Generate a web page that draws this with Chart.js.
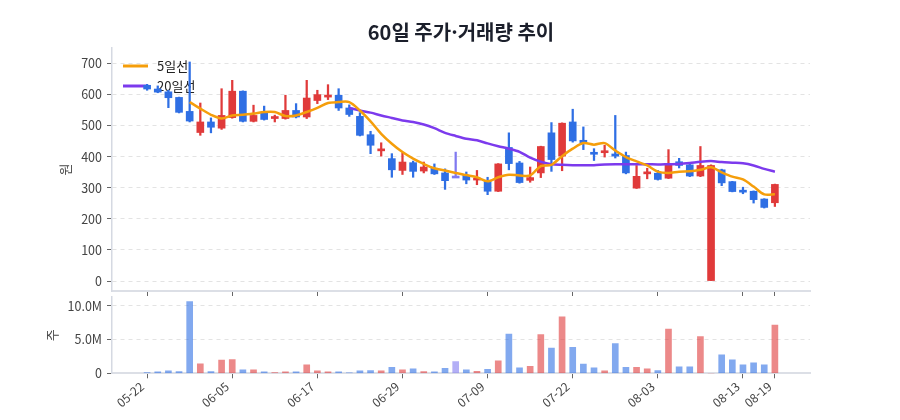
<!DOCTYPE html>
<html lang="ko">
<head>
<meta charset="utf-8">
<title>60일 주가·거래량 추이</title>
<script src="https://cdn.jsdelivr.net/npm/chart.js@4.4.1/dist/chart.umd.min.js"></script>
<style>
    body { margin: 0; background: #fff; }
    .wrap { position: relative; width: 900px; height: 420px; }
    #priceChart { position: absolute; left: 0; top: 0; }
    #volumeChart { position: absolute; left: 0; top: 290px; }
</style>
</head>
<body>
<div class="wrap">
    <canvas id="priceChart" width="900" height="301"></canvas>
    <canvas id="volumeChart" width="900" height="130"></canvas>
</div>
<script>
/*-------------------------
~~~~~~~~~~~Data~~~~~~~~~~~~
-------------------------*/
const dates = [
    '05-22', '05-23', '05-24', '05-27', '05-28', '05-29', '05-31', '06-03', '06-05', '06-06',
    '06-07', '06-10', '06-11', '06-12', '06-13', '06-14', '06-17', '06-18', '06-19', '06-20',
    '06-21', '06-24', '06-25', '06-26', '06-29', '07-01', '07-02', '07-03', '07-04', '07-05',
    '07-06', '07-08', '07-09', '07-10', '07-11', '07-12', '07-15', '07-16', '07-17', '07-19',
    '07-22', '07-23', '07-24', '07-25', '07-26', '07-29', '07-30', '07-31', '08-03', '08-05',
    '08-06', '08-07', '08-08', '08-09', '08-10', '08-12', '08-13', '08-14', '08-16', '08-19'
];
const opens = [
    630, 618, 609, 591, 546, 478, 512, 492, 526, 611,
    514, 542, 523, 523, 549, 528, 581, 592, 598, 557,
    530, 471, 419, 394, 356, 381, 354, 363, 348, 338,
    340, 325, 324, 289, 430, 380, 324, 348, 477, 402,
    512, 453, 412, 413, 409, 404, 299, 345, 347, 331,
    384, 374, 338, 0, 358, 320, 291, 289, 264, 252
];
const closes = [
    618, 608, 590, 543, 515, 512, 495, 533, 611, 514,
    533, 520, 527, 549, 528, 589, 600, 597, 557, 536,
    469, 437, 425, 358, 383, 353, 367, 345, 323, 338,
    325, 331, 289, 377, 378, 317, 333, 433, 391, 508,
    451, 445, 408, 418, 402, 348, 337, 350, 327, 374,
    372, 338, 372, 372, 316, 288, 286, 262, 237, 311
];
const highs = [
    633, 628, 614, 592, 705, 573, 525, 619, 646, 612,
    566, 563, 534, 598, 571, 646, 614, 632, 619, 567,
    542, 482, 445, 410, 413, 386, 383, 377, 361, 415,
    351, 356, 334, 378, 477, 385, 367, 434, 510, 509,
    553, 496, 426, 437, 533, 415, 372, 363, 356, 423,
    395, 382, 433, 374, 360, 321, 302, 290, 265, 312
];
const lows = [
    614, 606, 558, 541, 512, 469, 477, 488, 524, 512,
    512, 518, 512, 521, 525, 523, 571, 584, 549, 530,
    467, 410, 402, 334, 343, 334, 348, 343, 295, 334,
    313, 310, 278, 288, 358, 315, 318, 333, 353, 355,
    447, 423, 388, 399, 396, 345, 298, 329, 325, 330,
    364, 336, 336, 0, 307, 287, 281, 251, 235, 240
];
const volumes = [
    100000, 200000, 350000, 250000, 10640000, 1400000, 250000, 1950000, 2050000, 500000,
    500000, 200000, 100000, 200000, 200000, 1250000, 350000, 200000, 200000, 80000,
    350000, 400000, 350000, 900000, 500000, 650000, 250000, 200000, 750000, 1750000,
    500000, 300000, 600000, 1850000, 5800000, 800000, 1050000, 5750000, 3750000, 8350000,
    3850000, 1350000, 800000, 350000, 4400000, 900000, 900000, 650000, 400000, 6550000,
    950000, 950000, 5450000, 0, 2750000, 2000000, 1250000, 1550000, 1250000, 7150000
];
const ma5 = [
    null, null, null, null, 576, 555, 535, 523, 533, 535,
    539, 544, 544, 531, 533, 544, 557, 573, 576, 576,
    549, 514, 474, 442, 415, 394, 377, 363, 356, 348,
    341, 334, 321, 334, 342, 340, 340, 370, 374, 402,
    426, 444, 439, 444, 420, 399, 385, 372, 352, 348,
    352, 353, 358, 366, 350, 336, 327, 304, 279, 279
];
const ma20 = [
    null, null, null, null, null, null, null, null, null, null,
    null, null, null, null, null, null, null, null, null, 557,
    549, 542, 533, 525, 517, 512, 504, 492, 477, 467,
    458, 453, 443, 434, 426, 416, 397, 384, 376, 374,
    373, 373, 373, 375, 376, 376, 376, 376, 375, 376,
    377, 380, 384, 386, 383, 381, 379, 372, 361, 352
];
const tickIndexes = [0, 8, 16, 24, 32, 40, 48, 56, 59];
const priceTicks = [0, 100, 200, 300, 400, 500, 600, 700];
const volumeTicks = [0, 5000000, 10000000];


/*-------------------------
~~~~~~~~~~Styles~~~~~~~~~~~
-------------------------*/
const upColor = '#e03a3a';
const downColor = '#2f6fe4';
const flatColor = '#8079f0';
const ma5Color = '#f59e0b';
const ma20Color = '#7c3aed';
const fontFamily = "'Noto Sans CJK KR', 'Noto Sans', sans-serif";

Chart.defaults.font.family = fontFamily;
Chart.defaults.color = '#444';

function candleColor(i, alpha) {
    let color = flatColor;
    if (closes[i] > opens[i]) color = upColor;
    if (closes[i] < opens[i]) color = downColor;
    if (alpha === undefined) return color;
    const r = parseInt(color.slice(1, 3), 16);
    const g = parseInt(color.slice(3, 5), 16);
    const b = parseInt(color.slice(5, 7), 16);
    return `rgba(${r}, ${g}, ${b}, ${alpha})`;
}

function xAxis(showLabels, height) {
    return {
        type: 'linear',
        min: -3.3,
        max: 62.3,
        offset: false,
        afterBuildTicks: axis => { axis.ticks = tickIndexes.map(v => ({ value: v })); },
        afterFit: axis => {
            axis.height = height;
            axis.paddingLeft = 0;
            axis.paddingRight = 0;
        },
        grid: { offset: false, drawOnChartArea: false, drawTicks: true, tickLength: 5, tickColor: '#666' },
        border: { color: '#dcdfe6', width: 2 },
        ticks: {
            autoSkip: false,
            maxRotation: 40,
            minRotation: 40,
            padding: 1,
            labelOffset: -5,
            color: '#444',
            font: { size: 12 },
            callback: v => showLabels ? dates[v] : ''
        }
    };
}

function yAxis(ticks, min, max, titleText, titleOffset, format) {
    return {
        min: min,
        max: max,
        afterBuildTicks: axis => { axis.ticks = ticks.map(v => ({ value: v })); },
        afterFit: axis => {
            axis.width = 112;
            axis.paddingTop = 0;
            axis.paddingBottom = 0;
        },
        grid: { color: '#e3e3e3', tickColor: '#666', tickLength: 5 },
        border: { color: '#d5d9e2', width: 1.5, dash: [4, 4] },
        ticks: { padding: 5, color: '#444', font: { size: 12.5 }, callback: format },
        title: {
            display: true,
            text: titleText,
            color: '#444',
            font: { size: 13 },
            padding: { top: titleOffset, bottom: 0 }
        }
    };
}

// legend sits inside the plot, drawn under the candles
const innerLegend = {
    id: 'innerLegend',
    beforeDatasetsDraw(chart) {
        const { ctx, chartArea } = chart;
        const items = [['5일선', ma5Color], ['20일선', ma20Color]];
        ctx.save();
        items.forEach((item, i) => {
            const y = chartArea.top + 18 + i * 20;
            ctx.strokeStyle = item[1];
            ctx.lineWidth = 3;
            ctx.beginPath();
            ctx.moveTo(chartArea.left + 11, y);
            ctx.lineTo(chartArea.left + 36, y);
            ctx.stroke();
            ctx.fillStyle = '#222';
            ctx.font = `13px ${fontFamily}`;
            ctx.textBaseline = 'middle';
            ctx.fillText(item[0], chartArea.left + 45, y);
        });
        ctx.restore();
    }
};


/*-------------------------
~~~~~~~~Price Chart~~~~~~~~
-------------------------*/
const wickData = lows.map((low, i) => ({ x: i, y: [low, highs[i]] }));
const bodyData = opens.map((open, i) => ({ x: i, y: [open, closes[i]] }));
const candleColors = opens.map((open, i) => candleColor(i));

new Chart(document.getElementById('priceChart'), {
    type: 'bar',
    data: {
        datasets: [
            {
                type: 'line',
                label: '5일선',
                data: ma5.map((v, i) => ({ x: i, y: v })),
                borderColor: ma5Color,
                borderWidth: 2.5,
                pointRadius: 0,
                tension: 0.3,
                order: 0
            },
            {
                type: 'line',
                label: '20일선',
                data: ma20.map((v, i) => ({ x: i, y: v })),
                borderColor: ma20Color,
                borderWidth: 2.5,
                pointRadius: 0,
                tension: 0.3,
                order: 0
            },
            {
                label: 'body',
                data: bodyData,
                backgroundColor: candleColors,
                barThickness: 7,
                minBarLength: 2,
                grouped: false,
                order: 1
            },
            {
                label: 'wick',
                data: wickData,
                backgroundColor: candleColors,
                barThickness: 1.6,
                grouped: false,
                order: 2
            }
        ]
    },
    options: {
        responsive: false,
        animation: false,
        layout: { padding: { left: 0, right: 90, top: 0, bottom: 0 } },
        plugins: {
            legend: { display: false },
            tooltip: { enabled: false },
            title: {
                display: true,
                fullSize: false,
                text: '60일 주가·거래량 추이',
                color: '#1b1f2b',
                font: { size: 20, weight: 'bold' },
                padding: { top: 20, bottom: 4 }
            }
        },
        scales: {
            x: xAxis(false, 10),
            y: yAxis(priceTicks, -32, 750, '원', 57, v => v)
        }
    },
    plugins: [innerLegend]
});


/*-------------------------
~~~~~~~Volume Chart~~~~~~~~
-------------------------*/
new Chart(document.getElementById('volumeChart'), {
    type: 'bar',
    data: {
        datasets: [{
            label: '거래량',
            data: volumes.map((v, i) => ({ x: i, y: v })),
            backgroundColor: volumes.map((v, i) => candleColor(i, 0.6)),
            barThickness: 6
        }]
    },
    options: {
        responsive: false,
        animation: false,
        layout: { padding: { left: 0, right: 90, top: 7, bottom: 0 } },
        plugins: {
            legend: { display: false },
            tooltip: { enabled: false }
        },
        scales: {
            x: xAxis(true, 46.7),
            y: yAxis(volumeTicks, 0, 11300000, '주', 44, v => v === 0 ? '0' : (v / 1000000).toFixed(1) + 'M')
        }
    }
});
</script>
</body>
</html>
